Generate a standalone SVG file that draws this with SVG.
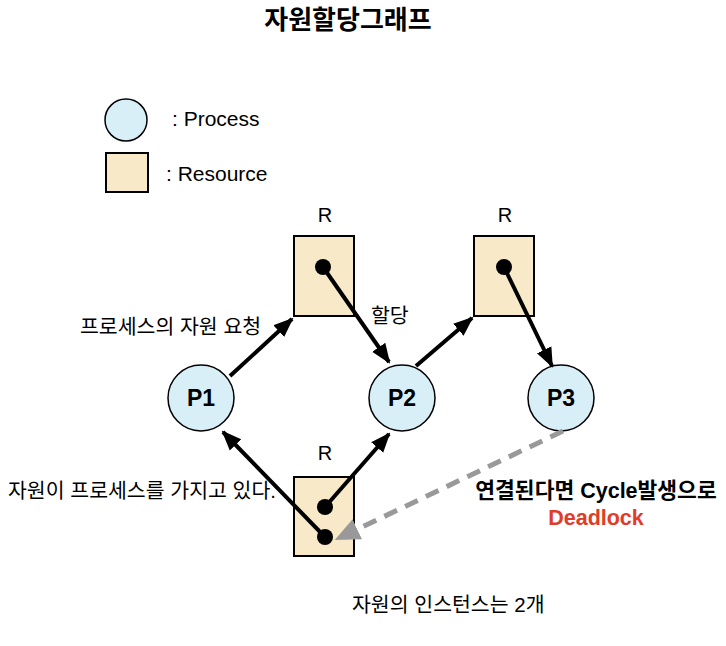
<svg xmlns="http://www.w3.org/2000/svg" width="726" height="646" viewBox="0 0 726 646">
<style>
text{font-family:"Liberation Sans","Noto Sans CJK KR",sans-serif;fill:#000}
.proc{fill:#d8eff8;stroke:#000;stroke-width:1.5}
.res{fill:#f8e9c8;stroke:#000;stroke-width:2}
.lbl{font-size:20.5px}
.rl{font-size:20px;text-anchor:middle}
.pl{font-size:23px;font-weight:bold;text-anchor:middle}
.edge{stroke:#000;stroke-width:4;fill:none;marker-end:url(#ah)}
.dash{stroke:#999;stroke-width:5;fill:none;stroke-dasharray:14 9;marker-end:url(#ag)}
</style>
<defs>
<marker id="ah" markerWidth="5" markerHeight="5" refX="4.5" refY="2.5" orient="auto" markerUnits="strokeWidth" viewBox="0 0 5 5"><path d="M0,0.5 L5,2.5 L0,4.5 Z" fill="#000"/></marker>
<marker id="ag" markerWidth="5" markerHeight="5" refX="4.5" refY="2.5" orient="auto" markerUnits="strokeWidth" viewBox="0 0 5 5"><path d="M0,0.3 L5,2.5 L0,4.7 Z" fill="#999"/></marker>
</defs>
<text x="348" y="29" font-size="26" font-weight="bold" text-anchor="middle">자원할당그래프</text>
<g id="legend">
<circle class="proc" cx="126" cy="120" r="21"/>
<text x="172" y="126" font-size="21">: Process</text>
<rect class="res" x="106" y="153" width="42" height="39"/>
<text x="166" y="181" font-size="21">: Resource</text>
</g>
<g id="R1">
<text class="rl" x="325" y="222">R</text>
<rect class="res" x="294" y="236" width="60" height="80"/>
<circle cx="323" cy="267" r="8" fill="#000"/>
</g>
<g id="R2">
<text class="rl" x="505" y="222">R</text>
<rect class="res" x="474" y="236" width="60" height="80"/>
<circle cx="504" cy="267" r="8" fill="#000"/>
</g>
<g id="R3">
<text class="rl" x="325" y="460">R</text>
<rect class="res" x="294" y="477" width="60" height="79"/>
<circle cx="325" cy="507" r="8" fill="#000"/>
<circle cx="325" cy="537" r="8" fill="#000"/>
</g>
<g id="P1"><circle class="proc" cx="201" cy="398" r="33"/><text class="pl" x="201" y="406">P1</text></g>
<g id="P2"><circle class="proc" cx="402" cy="398" r="33"/><text class="pl" x="402" y="406">P2</text></g>
<g id="P3"><circle class="proc" cx="561" cy="398" r="33"/><text class="pl" x="561" y="406">P3</text></g>
<g id="connectors">
<line class="edge" x1="230" y1="376" x2="292" y2="319"/>
<line class="edge" x1="323" y1="267" x2="389" y2="362"/>
<line class="edge" x1="416" y1="366" x2="472" y2="318"/>
<line class="edge" x1="504" y1="267" x2="552" y2="366"/>
<line class="edge" x1="325" y1="537" x2="223" y2="432"/>
<line class="edge" x1="325" y1="507" x2="389" y2="434"/>
<line class="dash" x1="563" y1="431" x2="337" y2="539"/>
</g>
<g id="labels">
<text class="lbl" x="80" y="334">프로세스의 자원 요청</text>
<text class="lbl" x="371" y="323">할당</text>
<text class="lbl" x="8" y="498">자원이 프로세스를 가지고 있다.</text>
<text x="596" y="498" font-size="21.5" font-weight="bold" text-anchor="middle">연결된다면 Cycle발생으로</text>
<text x="596" y="525" font-size="21.5" font-weight="bold" text-anchor="middle" style="fill:#e03c28">Deadlock</text>
<text class="lbl" x="352" y="612">자원의 인스턴스는 2개</text>
</g>
</svg>
